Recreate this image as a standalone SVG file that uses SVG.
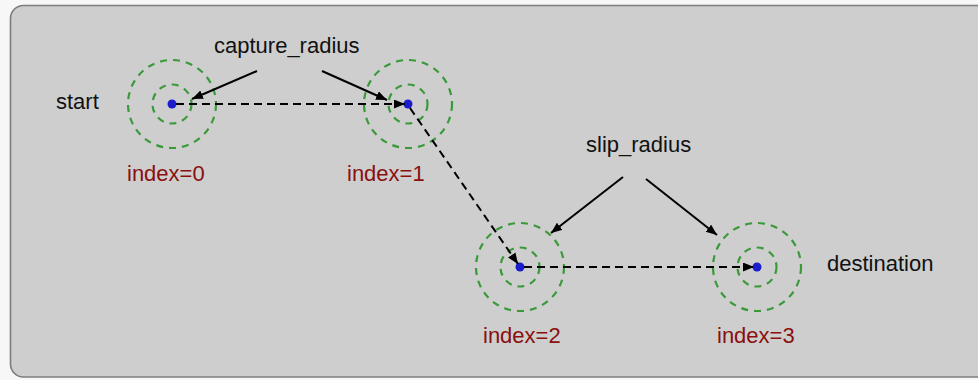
<svg xmlns="http://www.w3.org/2000/svg" width="978" height="380" viewBox="0 0 978 380">
<defs>
<marker id="ah" markerUnits="userSpaceOnUse" markerWidth="12" markerHeight="10" refX="11" refY="4.5" orient="auto">
<path d="M0,0 L11,4.5 L0,9 Z" fill="#000"/>
</marker>
</defs>
<style>
.lbl{font-family:"Liberation Sans",Arial,sans-serif;font-size:22px;fill:#111}
.idx{font-family:"Liberation Sans",Arial,sans-serif;font-size:22px;fill:#8a0f0f}
.ring{fill:none;stroke:#3a9a3a;stroke-width:2.2;stroke-dasharray:7 6}
.dot{fill:#1c1ccf}
.dash{fill:none;stroke:#000;stroke-width:2;stroke-dasharray:8 5;marker-end:url(#ah)}
.ptr{fill:none;stroke:#000;stroke-width:2;marker-end:url(#ah)}
</style>
<rect x="0" y="0" width="978" height="380" fill="#f7f7f7"/>
<rect x="10.5" y="5.5" width="985" height="371.5" rx="13" fill="#cecece" stroke="#7d7d7d" stroke-width="1.6"/>
<g id="wp0">
<circle class="ring" cx="172" cy="104" r="44"/>
<circle class="ring" cx="172" cy="104" r="19.5"/>
<circle class="dot" cx="172" cy="104" r="4.5"/>
<text class="idx" x="127" y="181">index=0</text>
</g>
<g id="wp1">
<circle class="ring" cx="408" cy="104" r="44"/>
<circle class="ring" cx="408" cy="104" r="19.5"/>
<circle class="dot" cx="408" cy="104" r="4.5"/>
<text class="idx" x="347" y="181">index=1</text>
</g>
<g id="wp2">
<circle class="ring" cx="520" cy="267" r="44"/>
<circle class="ring" cx="520" cy="267" r="19.5"/>
<circle class="dot" cx="520" cy="267" r="4.5"/>
<text class="idx" x="483" y="343">index=2</text>
</g>
<g id="wp3">
<circle class="ring" cx="757" cy="267" r="44"/>
<circle class="ring" cx="757" cy="267" r="19.5"/>
<circle class="dot" cx="757" cy="267" r="4.5"/>
<text class="idx" x="717" y="343">index=3</text>
</g>
<g id="start"><text class="lbl" x="56" y="109">start</text></g>
<g id="destination"><text class="lbl" x="827" y="271">destination</text></g>
<g id="capture_radius"><text class="lbl" x="214" y="53">capture_radius</text></g>
<g id="slip_radius"><text class="lbl" x="586" y="152">slip_radius</text></g>
<g id="connectors">
<line class="dash" x1="176" y1="104" x2="405" y2="104"/>
<line class="dash" x1="410" y1="108" x2="518" y2="264"/>
<line class="dash" x1="524" y1="267" x2="754" y2="267"/>
<line class="ptr" x1="257" y1="71" x2="192" y2="99"/>
<line class="ptr" x1="322" y1="71" x2="387" y2="100"/>
<line class="ptr" x1="623" y1="177" x2="551" y2="233"/>
<line class="ptr" x1="646" y1="179" x2="717" y2="235"/>
</g>
</svg>
